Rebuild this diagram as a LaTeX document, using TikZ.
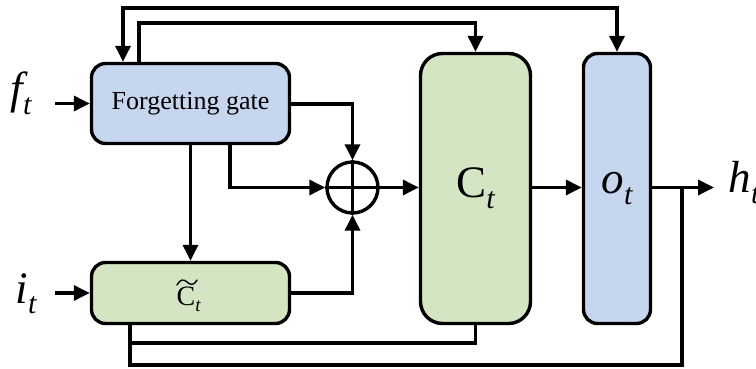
\documentclass[tikz,border=0pt]{standalone}
\usepackage{fontspec}
\setmainfont{Liberation Serif}
\newfontfamily\labelfont{Liberation Serif Italic}
\usetikzlibrary{arrows.meta}
\definecolor{boxblue}{RGB}{197,214,238}
\definecolor{boxgreen}{RGB}{211,229,194}
\newcommand{\subt}{\raisebox{-0.24em}{\fontsize{30}{30}\selectfont\labelfont t}}
\newcommand{\symb}[1]{{\labelfont #1}\subt}
\begin{document}
\begin{tikzpicture}[x=1pt,y=-1pt,line width=3.4pt,
  arr/.style={-{Triangle[length=16pt,width=15pt]}},
  arrboth/.style={{Triangle[length=16pt,width=15pt]}-{Triangle[length=16pt,width=15pt]}},
  blk/.style={draw,rounded corners=14pt,inner sep=0pt},
  lbl/.style={inner sep=0pt,font=\fontsize{45}{50}\selectfont}]
\useasboundingbox (0,0) rectangle (756,369);
% blocks
\node[blk,fill=boxblue,minimum width=198pt,minimum height=80pt] (fg) at (190.5,103.5)
  {\fontsize{26}{30}\selectfont Forgetting gate};
\node[blk,fill=boxgreen,minimum width=198pt,minimum height=61pt] (ct) at (190.5,293) {};
\node[inner sep=0pt,anchor=base west] (ctl) at (175,305)
  {\fontsize{28}{30}\selectfont C\raisebox{-0.24em}{\fontsize{19}{20}\selectfont\labelfont t}};
\draw[line width=1.4pt,line cap=round] (177,285) .. controls (180,279) and (184,279) .. (187,282)
  .. controls (190,285) and (194,286) .. (197,280);
\node[blk,fill=boxgreen,rounded corners=22pt,minimum width=110pt,minimum height=270pt] (C) at (475.5,188.5)
  {\fontsize{45}{50}\selectfont C\subt};
\node[blk,fill=boxblue,minimum width=67pt,minimum height=270pt] (o) at (617,188.5)
  {\fontsize{45}{50}\selectfont\symb{o}};
\node[circle,draw,minimum size=51pt,inner sep=0pt] (plus) at (352.5,187.5) {};
\draw (plus.north) -- (plus.south) (plus.west) -- (plus.east);
% labels
\node[lbl,anchor=base west] (ft) at (9,104) {\symb{f}};
\node[lbl,anchor=base west] (it) at (14,303) {\symb{i}};
\node[lbl,anchor=base west] (h) at (727,193) {\symb{h}};
% coordinates of bends
\coordinate (ta) at (123,8);
\coordinate (tb) at (139,23);
\coordinate (ba) at (130,343);
\coordinate (bb) at (130,365);
\coordinate (jn) at (682,187.5);
% connectors
\draw[arr] (55,0 |- fg.west) -- (fg.west);
\draw[arr] (55,0 |- ct.west) -- (ct.west);
\draw[arr] (fg.east |- 0,104) -| (plus.north);
\draw[arr] (fg.south) -- (ct.north);
\draw[arr] (230,0 |- fg.south) |- (plus.west);
\draw[arr] (ct.east) -| (plus.south);
\draw[arr] (plus.east) -- (plus.east -| C.west);
\draw[arr] (C.east |- plus) -- (o.west |- plus);
\draw[arr] (o.east |- plus) -- ([xshift=-13pt]h.west |- plus);
\draw[arr] (tb |- fg.north) -- (tb) -| (C.north);
\draw[arrboth] (ta |- fg.north) -- (ta) -| (o.north);
\draw (ba |- ct.south) -- (bb) -| (jn);
\draw (ba) -| (C.south);
\end{tikzpicture}
\end{document}
